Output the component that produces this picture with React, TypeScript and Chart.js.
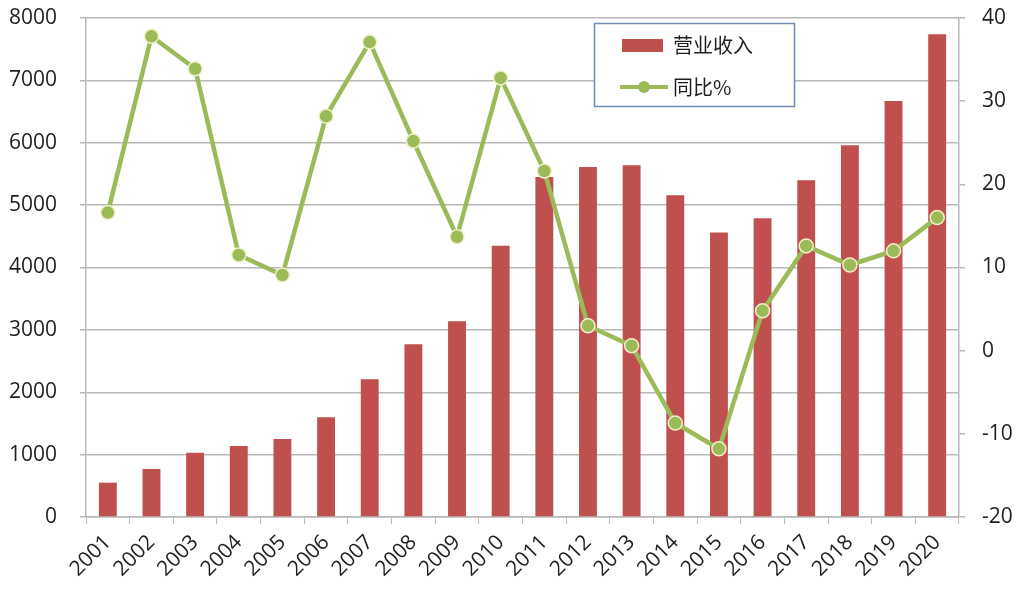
import React, { useEffect, useRef } from "react";
import { Chart, registerables } from "chart.js";

Chart.register(...registerables);

const years = ["2001","2002","2003","2004","2005","2006","2007","2008","2009","2010","2011","2012","2013","2014","2015","2016","2017","2018","2019","2020"];
const revenue = [550, 770, 1030, 1140, 1250, 1600, 2210, 2770, 3140, 4350, 5450, 5610, 5640, 5160, 4560, 4790, 5400, 5960, 6670, 7740];
const growth = [16.6, 37.8, 33.9, 11.5, 9.1, 28.2, 37.1, 25.2, 13.7, 32.8, 21.6, 3.0, 0.6, -8.7, -11.8, 4.8, 12.6, 10.3, 12.0, 16.0];
const revenueLabel = "营业收入";
const growthLabel = "同比%";

const RED = "#C0504D";
const GREEN = "#9BBB59";
const GRID = "#B8B8B8";
const TEXT = "#1f1f1f";

const legendPlugin = {
  id: "boxLegend",
  afterDraw(chart: any) {
    const ctx = chart.ctx;
    ctx.save();
    ctx.fillStyle = "#ffffff";
    ctx.fillRect(594, 23, 200, 83);
    ctx.strokeStyle = "#6E8FB3";
    ctx.lineWidth = 1.5;
    ctx.strokeRect(594.5, 23.5, 200, 83);
    ctx.fillStyle = RED;
    ctx.fillRect(622, 39, 41, 13);
    ctx.font = '20px "Noto Sans CJK SC", "Open Sans", sans-serif';
    ctx.fillStyle = TEXT;
    ctx.textBaseline = "middle";
    ctx.textAlign = "left";
    ctx.fillText(revenueLabel, 673, 45);
    ctx.strokeStyle = GREEN;
    ctx.lineWidth = 4;
    ctx.beginPath();
    ctx.moveTo(620, 87);
    ctx.lineTo(668, 87);
    ctx.stroke();
    ctx.fillStyle = GREEN;
    ctx.beginPath();
    ctx.arc(644, 87, 6, 0, Math.PI * 2);
    ctx.fill();
    ctx.fillStyle = TEXT;
    ctx.fillText(growthLabel, 673, 87);
    ctx.restore();
  },
};

export default function App() {
  const ref = useRef<HTMLCanvasElement>(null);
  useEffect(() => {
    document.body.style.margin = "0";
    const chart = new Chart(ref.current!, {
      type: "bar",
      data: {
        labels: years,
        datasets: [
          {
            type: "line",
            label: growthLabel,
            data: growth,
            yAxisID: "y1",
            borderColor: GREEN,
            backgroundColor: GREEN,
            borderWidth: 4.5,
            pointRadius: 7,
            pointBackgroundColor: GREEN,
            pointBorderColor: "#F1EFC9",
            pointBorderWidth: 1.5,
            tension: 0,
            order: 0,
          } as any,
          {
            type: "bar",
            label: revenueLabel,
            data: revenue,
            yAxisID: "y",
            backgroundColor: RED,
            barPercentage: 0.41,
            categoryPercentage: 1,
            order: 1,
          },
        ],
      },
      options: {
        animation: false,
        responsive: true,
        maintainAspectRatio: false,
        layout: { padding: { top: 18, left: 0, right: 0, bottom: 0 } },
        plugins: { legend: { display: false }, tooltip: { enabled: false } },
        scales: {
          x: {
            offset: true,
            grid: { display: true, drawOnChartArea: false, drawTicks: true, tickLength: 7, color: GRID, offset: true },
            border: { display: true, color: GRID, width: 1.5 },
            ticks: {
              color: TEXT,
              font: { family: '"Open Sans", sans-serif', size: 21 },
              maxRotation: 45,
              minRotation: 45,
              autoSkip: false,
              padding: 6,
            },
            afterFit: (s: any) => { s.height = 79; s.paddingLeft = 0; s.paddingRight = 0; },
          },
          y: {
            position: "left",
            min: 0,
            max: 8000,
            grid: { color: GRID, lineWidth: 1.5, tickLength: 6 },
            border: { display: true, color: GRID, width: 1.5 },
            ticks: {
              stepSize: 1000,
              color: TEXT,
              padding: 23,
              font: { family: '"Open Sans", sans-serif', size: 21 },
              callback: (v: any) => String(v),
            },
            afterFit: (s: any) => { s.width = 86; s.paddingTop = 0; s.paddingBottom = 0; },
          },
          y1: {
            position: "right",
            min: -20,
            max: 40,
            grid: { drawOnChartArea: false, color: GRID, lineWidth: 1.5, tickLength: 6 },
            border: { display: true, color: GRID, width: 1.5 },
            ticks: {
              stepSize: 10,
              color: TEXT,
              padding: 17,
              font: { family: '"Open Sans", sans-serif', size: 21 },
              callback: (v: any) => String(v),
            },
            afterFit: (s: any) => { s.width = 65; s.paddingTop = 0; s.paddingBottom = 0; },
          },
        },
      },
      plugins: [legendPlugin],
    });
    return () => chart.destroy();
  }, []);
  return (
    <div style={{ position: "relative", width: 1024, height: 596, background: "#fff" }}>
      <canvas ref={ref} />
    </div>
  );
}
